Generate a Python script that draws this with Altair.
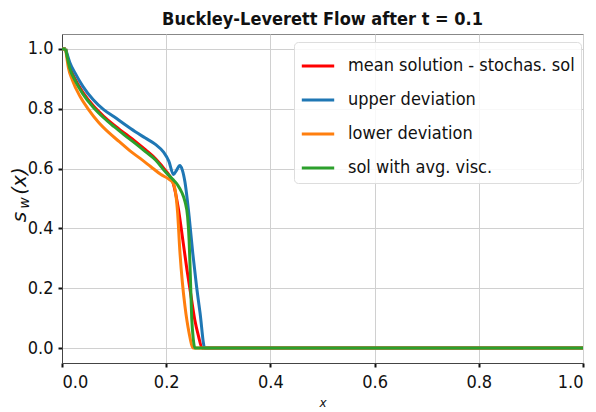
import altair as alt
import pandas as pd

# ---- data ----
series_names = ["mean solution - stochas. sol", "upper deviation", "lower deviation", "sol with avg. visc."]
series_colors = ["#ff0000", "#1f77b4", "#ff7f0e", "#2ca02c"]

mean_x = [0, 0.007, 0.015, 0.025, 0.04, 0.06, 0.08, 0.1, 0.12, 0.14, 0.16, 0.18, 0.198, 0.213,
          0.223, 0.232, 0.24, 0.248, 0.255, 0.262, 0.269, 1.0]
mean_y = [1.0, 1.0, 0.94, 0.9, 0.855, 0.81, 0.775, 0.745, 0.718, 0.692, 0.663, 0.632, 0.595, 0.553,
          0.47, 0.36, 0.26, 0.17, 0.093, 0.04, 0.0, 0.0]

upper_x = [0, 0.007, 0.015, 0.025, 0.04, 0.06, 0.08, 0.1, 0.12, 0.14, 0.16, 0.18, 0.195, 0.205, 0.214,
           0.22, 0.226, 0.231, 0.236, 0.244, 0.251, 0.258, 0.265, 0.274, 1.0]
upper_y = [1.0, 1.0, 0.955, 0.92, 0.875, 0.83, 0.797, 0.773, 0.748, 0.724, 0.702, 0.68, 0.655, 0.625, 0.58,
           0.595, 0.61, 0.595, 0.555, 0.44, 0.317, 0.21, 0.117, 0.0, 0.0]

lower_x = [0, 0.007, 0.012, 0.02, 0.035, 0.05, 0.07, 0.09, 0.11, 0.13, 0.15, 0.17, 0.19, 0.205, 0.213,
           0.218, 0.222, 0.226, 0.231, 0.236, 0.244, 0.252, 1.0]
lower_y = [1.0, 1.0, 0.94, 0.895, 0.84, 0.8, 0.755, 0.72, 0.69, 0.66, 0.634, 0.607, 0.58, 0.565, 0.553,
           0.52, 0.45, 0.33, 0.22, 0.14, 0.05, 0.0, 0.0]

avg_x = [0, 0.007, 0.015, 0.025, 0.04, 0.06, 0.08, 0.1, 0.12, 0.14, 0.16, 0.18, 0.198, 0.212, 0.222,
         0.23, 0.236, 0.241, 0.244, 0.246, 0.249, 0.252, 0.255, 1.0]
avg_y = [1.0, 1.0, 0.935, 0.895, 0.85, 0.805, 0.77, 0.74, 0.712, 0.685, 0.657, 0.628, 0.59, 0.565, 0.545,
         0.52, 0.49, 0.44, 0.36, 0.26, 0.1, 0.03, 0.0, 0.0]

x_ticks = [0.0, 0.2, 0.4, 0.6, 0.8, 1.0]
y_ticks = [0.0, 0.2, 0.4, 0.6, 0.8, 1.0]

rows = []
for k, (xs, ys) in enumerate([(mean_x, mean_y), (upper_x, upper_y), (lower_x, lower_y), (avg_x, avg_y)]):
    for i, (a, b) in enumerate(zip(xs, ys)):
        # segment 0: flat start; segment 1: the smooth curve (point 1 shared)
        if i <= 1:
            rows.append({"series": series_names[k], "x": a, "y": b, "i": i, "grp": f"{k}a"})
        if i >= 1:
            rows.append({"series": series_names[k], "x": a, "y": b, "i": i, "grp": f"{k}b"})
df = pd.DataFrame(rows)

FONT = "DejaVu Sans Condensed"

lines = alt.Chart(df).mark_line(strokeWidth=3, clip=True, interpolate="monotone").encode(
    x=alt.X("x:Q", scale=alt.Scale(domain=[0, 1], nice=False, zero=False),
            axis=alt.Axis(values=x_ticks, format=".1f", title="x", grid=True)),
    y=alt.Y("y:Q", scale=alt.Scale(domain=[-0.05, 1.05], nice=False, zero=False),
            axis=alt.Axis(values=y_ticks, format=".1f", title=None, grid=True)),
    color=alt.Color("series:N", scale=alt.Scale(domain=series_names, range=series_colors),
                    legend=alt.Legend(title=None, orient="none", legendX=232, legendY=8,
                                      symbolType="stroke", symbolSize=1050, symbolStrokeWidth=3,
                                      labelFontSize=18, labelFont=FONT, labelColor="#111",
                                      rowPadding=7, padding=6, labelOffset=12,
                                      strokeColor="#dddddd", cornerRadius=4,
                                      fillColor="rgba(255,255,255,0.85)", labelLimit=400)),
    order=alt.Order("i:Q"),
    detail="grp:N",
)

lab_s = alt.Chart(pd.DataFrame({"t": ["s"]})).mark_text(
    angle=270, font="DejaVu Sans", fontStyle="italic", fontSize=20, align="center", baseline="middle", color="#111"
).encode(x=alt.value(-42), y=alt.value(183), text="t:N")
lab_w = alt.Chart(pd.DataFrame({"t": ["w"]})).mark_text(
    angle=270, font="DejaVu Sans", fontStyle="italic", fontSize=14, align="center", baseline="middle", color="#111"
).encode(x=alt.value(-37), y=alt.value(169), text="t:N")
lab_x = alt.Chart(pd.DataFrame({"t": ["(x)"]})).mark_text(
    angle=270, font="DejaVu Sans", fontStyle="italic", fontSize=20, align="center", baseline="middle", color="#111"
).encode(x=alt.value(-42), y=alt.value(147), text="t:N")

chart = alt.layer(lines, lab_s, lab_w, lab_x).properties(
    width=521, height=329,
    title=alt.TitleParams("Buckley-Leverett Flow after t = 0.1", font=FONT, fontSize=18,
                          fontWeight="bold", color="#111", offset=5, anchor="middle"),
    autosize=alt.AutoSizeParams(type="none"),
    padding={"left": 54, "top": 26, "right": 5, "bottom": 46},
).configure_view(stroke="#888", strokeWidth=1).configure_axis(
    labelFont=FONT, labelFontSize=18, labelColor="#111",
    gridColor="#d0d0d0", gridWidth=1,
    domainColor="#444", tickColor="#111", tickSize=4, tickWidth=2,
    labelPadding=5,
).configure_axisX(
    labelPadding=6,
    titleFont="DejaVu Sans", titleFontStyle="italic", titleFontWeight="normal", titleFontSize=12,
    titleColor="#111", titlePadding=6,
)

chart.save("out.html", embed_options={"renderer": "svg", "actions": False})
